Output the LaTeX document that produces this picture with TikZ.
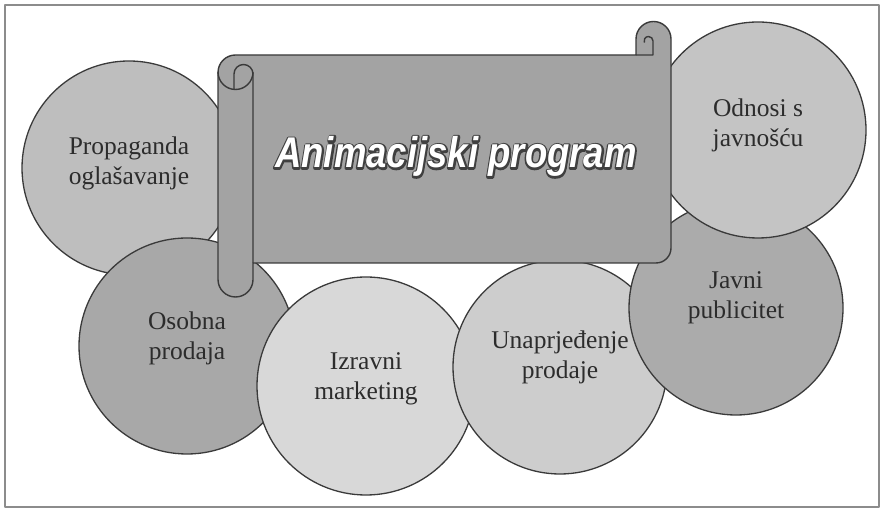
\documentclass[tikz,border=0pt]{standalone}
\usepackage{fontspec}
\setmainfont{Liberation Serif}
\newfontfamily\titlefont{Liberation Sans}
\definecolor{ink}{HTML}{2C2C2C}
\definecolor{rim}{HTML}{3A3A3A}
\definecolor{framegr}{HTML}{8C8C8C}
\definecolor{scroll}{HTML}{A3A3A3}
\definecolor{propc}{HTML}{BEBEBE}
\definecolor{osobc}{HTML}{A8A8A8}
\definecolor{izrc}{HTML}{D8D8D8}
\definecolor{unapc}{HTML}{CDCDCD}
\definecolor{javc}{HTML}{ABABAB}
\definecolor{odnc}{HTML}{C4C4C4}
% outlined lettering: dark stroke underneath, white fill on top
\newcommand{\outlined}[1]{\rlap{\special{pdf:literal direct 1 Tr 3.8 w 0.25 0.25 0.25 RG}#1\special{pdf:literal direct 0 Tr}}#1}
\tikzset{fig/.style={line join=round,x=1pt,y=1pt},
 bubble/.style={circle,draw=rim,line width=1.3pt,inner sep=0pt},
 lbl/.style={align=center,text=ink,font=\fontsize{25.5}{30}\selectfont},
 roll/.style={draw=rim,line width=1.4pt}}

\begin{document}
\begin{tikzpicture}[fig]
 \useasboundingbox (0,0) rectangle (882,510);
 \draw[framegr,line width=1.8pt] (5,3) rectangle (879,505);
 % circles, back to front
 \foreach \n/\x/\y/\d/\c/\dy/\t in {
   prop/129/342/214/propc/5/{Propaganda\\oglašavanje},
   osob/187/164/216/osobc/8/{Osobna\\prodaja},
   izr/366/124/218/izrc/7/{Izravni\\marketing},
   unap/560/143/214/unapc/10/{Unaprjeđenje\\prodaje},
   jav/736/202/214/javc/10/{Javni\\publicitet},
   odn/758/380/216/odnc/5/{Odnosi s\\javnošću}}{
  \node[bubble,fill=\c,minimum size=\d pt] (\n) at (\x,\y) {};
  \node[lbl] (\n-t) at ([yshift=\dy]\n) {\t};
 }
 % scroll banner
 \draw[roll,fill=scroll] (236,455) -- (636,455) -- (636,471) arc[start angle=180,end angle=0,radius=17.5]
  -- (671,262) arc[start angle=0,end angle=-90,radius=15] -- (253,247) -- (253,230.5)
  arc[start angle=0,end angle=-180,radius=17.5] -- (218,437.5) arc[start angle=180,end angle=90,radius=17.5] -- cycle;
 \draw[roll] (253,247) -- (253,436) arc[start angle=0,end angle=180,radius=9.5] -- (234,421);
 \draw[roll] (218,438) arc[start angle=180,end angle=360,radius=17.5];
 \draw[roll] (636,455) -- (653,455) -- (653,469) arc[start angle=0,end angle=200,radius=4.5];
 \node[anchor=base,text=white,font=\titlefont\bfseries\itshape\fontsize{43}{43}\selectfont] (title) at (456,342)
  {\scalebox{0.85}[1]{\outlined{Animacijski program}}};
\end{tikzpicture}
\end{document}
